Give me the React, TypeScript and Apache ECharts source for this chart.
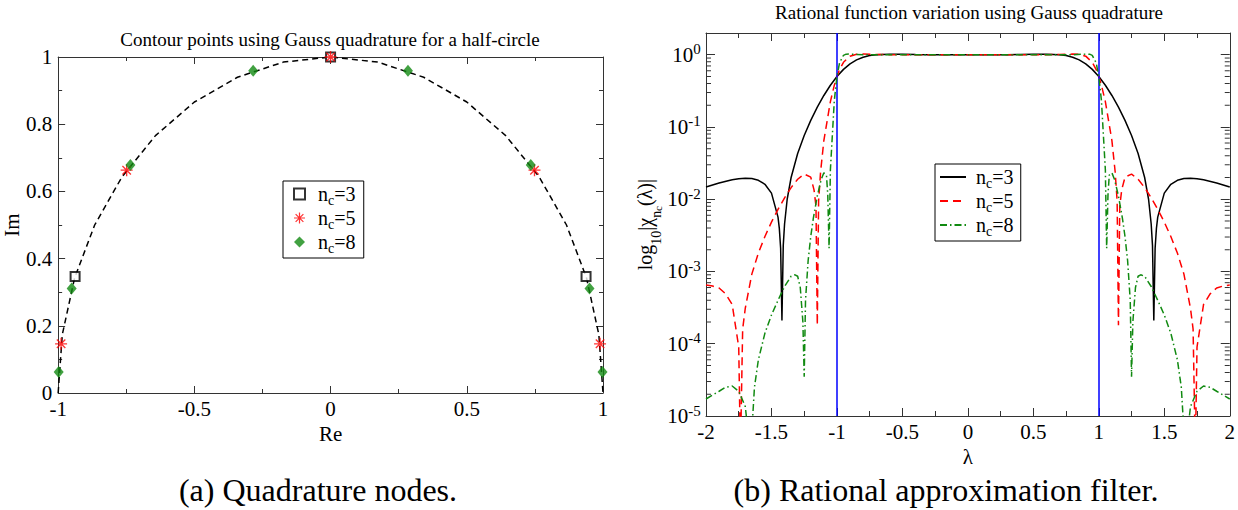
import React, { useEffect, useRef } from 'react';
import * as echarts from 'echarts';

const FONT = 'Liberation Serif, serif';
const AXIS = '#333';
const GREEN = '#118a11';

// ---------- (a) quadrature nodes ----------
const circleRe = [-1, -0.9848, -0.9397, -0.866, -0.766, -0.6428, -0.5, -0.342, -0.1736, 0, 0.1736, 0.342, 0.5, 0.6428, 0.766, 0.866, 0.9397, 0.9848, 1];
const circleIm = [0, 0.1736, 0.342, 0.5, 0.6428, 0.766, 0.866, 0.9397, 0.9848, 1, 0.9848, 0.9397, 0.866, 0.766, 0.6428, 0.5, 0.342, 0.1736, 0];
const nc3Re = [-0.9378, 0, 0.9378];
const nc3Im = [0.347, 1, 0.347];
const nc5Re = [-0.9892, -0.7485, 0, 0.7485, 0.9892];
const nc5Im = [0.1464, 0.6631, 1, 0.6631, 0.1464];
const nc8Re = [-0.9981, -0.9504, -0.7348, -0.2841, 0.2841, 0.7348, 0.9504, 0.9981];
const nc8Im = [0.0623, 0.311, 0.6783, 0.9588, 0.9588, 0.6783, 0.311, 0.0623];

// ---------- (b) rational filter ----------
const lam3 = [-2, -1.9, -1.8, -1.75, -1.7, -1.65, -1.6, -1.55, -1.5, -1.45, -1.44, -1.43, -1.42, -1.41, -1.4, -1.38, -1.35, -1.3, -1.25, -1.2, -1.15, -1.1, -1.05, -1, -0.95, -0.9, -0.85, -0.8, -0.75, -0.7, -0.6, -0.5, -0.4, -0.3, -0.2, 0, 0.2, 0.3, 0.4, 0.5, 0.6, 0.7, 0.75, 0.8, 0.85, 0.9, 0.95, 1, 1.05, 1.1, 1.15, 1.2, 1.25, 1.3, 1.35, 1.38, 1.4, 1.41, 1.42, 1.43, 1.44, 1.45, 1.5, 1.55, 1.6, 1.65, 1.7, 1.75, 1.8, 1.9, 2];
const chi3 = [0.01476, 0.01679, 0.01859, 0.01923, 0.01953, 0.01932, 0.01831, 0.01611, 0.01216, 0.00566, 0.00395, 0.0021, 0.00021, 0.0023, 0.00455, 0.01, 0.02, 0.043, 0.0763, 0.1234, 0.188, 0.273, 0.3785, 0.5, 0.6275, 0.7477, 0.8486, 0.9237, 0.9733, 1.0018, 1.0195, 1.0148, 1.0068, 1.0017, 1.0, 1.0, 1.0, 1.0017, 1.0068, 1.0148, 1.0195, 1.0018, 0.9733, 0.9237, 0.8486, 0.7477, 0.6275, 0.5, 0.3785, 0.273, 0.188, 0.1234, 0.0763, 0.043, 0.02, 0.01, 0.00455, 0.0023, 0.00021, 0.0021, 0.00395, 0.00566, 0.01216, 0.01611, 0.01831, 0.01932, 0.01953, 0.01923, 0.01859, 0.01679, 0.01476];

const lam5 = [-2, -1.95, -1.9, -1.85, -1.8, -1.75, -1.737, -1.72, -1.7, -1.65, -1.6, -1.55, -1.5, -1.45, -1.4, -1.35, -1.3, -1.25, -1.2, -1.175, -1.16, -1.15, -1.14, -1.125, -1.1, -1.05, -1.02, -1, -0.98, -0.95, -0.9, -0.85, -0.8, -0.7, -0.6, -0.5, -0.3, 0, 0.3, 0.5, 0.6, 0.7, 0.8, 0.85, 0.9, 0.95, 0.98, 1, 1.02, 1.05, 1.1, 1.125, 1.14, 1.15, 1.16, 1.175, 1.2, 1.25, 1.3, 1.35, 1.4, 1.45, 1.5, 1.55, 1.6, 1.65, 1.7, 1.72, 1.737, 1.75, 1.8, 1.85, 1.9, 1.95, 2];
const chi5 = [0.00065, 0.00063, 0.00059, 0.00049, 0.00035, 0.00009, 0.000003, 0.00016, 0.00031, 0.00092, 0.0018, 0.00305, 0.00483, 0.00725, 0.01045, 0.0145, 0.0189, 0.0223, 0.0202, 0.0135, 0.008, 0.00018, 0.0095, 0.0238, 0.0649, 0.2247, 0.3795, 0.5, 0.6229, 0.7868, 0.9559, 1.0143, 1.0223, 1.0085, 1.0007, 0.9994, 1.0, 1.0, 1.0, 0.9994, 1.0007, 1.0085, 1.0223, 1.0143, 0.9559, 0.7868, 0.6229, 0.5, 0.3795, 0.2247, 0.0649, 0.0238, 0.0095, 0.00018, 0.008, 0.0135, 0.0202, 0.0223, 0.0189, 0.0145, 0.01045, 0.00725, 0.00483, 0.00305, 0.0018, 0.00092, 0.00031, 0.00016, 0.000003, 0.00009, 0.00035, 0.00049, 0.00059, 0.00063, 0.00065];

const lam8 = [-2, -1.95, -1.9, -1.85, -1.8, -1.75, -1.7, -1.66, -1.63, -1.6, -1.55, -1.5, -1.45, -1.4, -1.35, -1.32, -1.3, -1.28, -1.26, -1.25, -1.24, -1.22, -1.2, -1.18, -1.15, -1.12, -1.1, -1.08, -1.07, -1.06, -1.05, -1.02, -1, -0.98, -0.95, -0.93, -0.9, -0.8, -0.5, 0, 0.5, 0.8, 0.9, 0.93, 0.95, 0.98, 1, 1.02, 1.05, 1.06, 1.07, 1.08, 1.1, 1.12, 1.15, 1.18, 1.2, 1.22, 1.24, 1.25, 1.26, 1.28, 1.3, 1.32, 1.35, 1.4, 1.45, 1.5, 1.55, 1.6, 1.63, 1.66, 1.7, 1.75, 1.8, 1.85, 1.9, 1.95, 2];
const chi8 = [0.0000172, 0.0000195, 0.000022, 0.000025, 0.000026, 0.000022, 0.0000135, 0.000003, 0.000025, 0.00006, 0.00014, 0.00025, 0.0004, 0.00062, 0.00086, 0.0009, 0.00086, 0.0006, 0.0002, 0.000035, 0.0004, 0.00141, 0.00305, 0.0055, 0.0111, 0.0188, 0.0232, 0.0216, 0.0115, 0.0021, 0.0255, 0.2326, 0.5, 0.772, 0.982, 1.0192, 1.0207, 1.0, 1.0, 1.0, 1.0, 1.0, 1.0207, 1.0192, 0.982, 0.772, 0.5, 0.2326, 0.0255, 0.0021, 0.0115, 0.0216, 0.0232, 0.0188, 0.0111, 0.0055, 0.00305, 0.00141, 0.0004, 0.000035, 0.0002, 0.0006, 0.00086, 0.0009, 0.00086, 0.00062, 0.0004, 0.00025, 0.00014, 0.00006, 0.000025, 0.000003, 0.0000135, 0.000022, 0.000026, 0.000025, 0.000022, 0.0000195, 0.0000172];

const filterEdges = [-1, 1];
const minorLogTicks = [
  2e-5, 3e-5, 4e-5, 5e-5, 6e-5, 7e-5, 8e-5, 9e-5,
  2e-4, 3e-4, 4e-4, 5e-4, 6e-4, 7e-4, 8e-4, 9e-4,
  2e-3, 3e-3, 4e-3, 5e-3, 6e-3, 7e-3, 8e-3, 9e-3,
  2e-2, 3e-2, 4e-2, 5e-2, 6e-2, 7e-2, 8e-2, 9e-2,
  2e-1, 3e-1, 4e-1, 5e-1, 6e-1, 7e-1, 8e-1, 9e-1,
];

const STAR = 'path://M1 9H19V11H1Z M9 1H11V19H9Z M4.35 2.93L17.07 15.65L15.65 17.07L2.93 4.35Z M17.07 4.35L4.35 17.07L2.93 15.65L15.65 2.93Z';

const zip = (xs: number[], ys: number[]) => xs.map((x, i) => [x, ys[i]]);

const legendRich = (gap: number) => ({
  g: { width: gap, fontSize: 1 },
  n: { fontFamily: FONT, fontSize: 20, lineHeight: 20, verticalAlign: 'middle', color: '#000' },
  s: { fontFamily: FONT, fontSize: 14, lineHeight: 8, verticalAlign: 'bottom', color: '#000' },
  z: { fontSize: 1, lineHeight: 26 },
});
const legendFmt = (name: string) => `{g| }{n|n}{s|c}{n|=${name.slice(1)}}{z| }`;

const tickLabel = { fontFamily: FONT, fontSize: 21, color: '#000' };
const line = { show: true, onZero: false, lineStyle: { color: AXIS, width: 1 } };

export default function App() {
  const ref = useRef<HTMLDivElement>(null);
  useEffect(() => {
    if (!ref.current) return;
    const chart = echarts.init(ref.current, undefined, { renderer: 'svg' });

    const leftX = {
      type: 'value', gridIndex: 0, min: -1, max: 1, interval: 0.5,
      axisLine: line,
      axisTick: { show: true, inside: true, length: 7, lineStyle: { color: AXIS } },
      minorTick: { show: true, splitNumber: 2, length: 4, lineStyle: { color: AXIS } },
      splitLine: { show: false },
    };
    const leftY = {
      type: 'value', gridIndex: 0, min: 0, max: 1, interval: 0.2,
      axisLine: line,
      axisTick: { show: true, inside: true, length: 7, lineStyle: { color: AXIS } },
      minorTick: { show: true, splitNumber: 2, length: 4, lineStyle: { color: AXIS } },
      splitLine: { show: false },
    };
    const rightX = {
      type: 'value', gridIndex: 1, min: -2, max: 2, interval: 0.5,
      axisLine: line,
      axisTick: { show: true, inside: true, length: 8, lineStyle: { color: AXIS } },
      minorTick: { show: true, splitNumber: 2, length: 5, lineStyle: { color: AXIS } },
      splitLine: { show: false },
    };
    const rightY = {
      type: 'log', logBase: 10, gridIndex: 1, min: 1e-5, max: 2,
      axisLine: line,
      axisTick: { show: true, inside: true, length: 9, lineStyle: { color: AXIS } },
      splitLine: { show: false },
    };
    const nameStyle = { fontFamily: FONT, fontSize: 21, color: '#000' };
    const titleStyle = (size: number) => ({ fontFamily: FONT, fontSize: size, fontWeight: 'normal', color: '#000' });

    const option: any = {
      animation: false,
      backgroundColor: '#fff',
      textStyle: { fontFamily: FONT },
      title: [
        { text: 'Contour points using Gauss quadrature for a half-circle', left: 330, top: 30, textAlign: 'center', padding: 0, textStyle: titleStyle(19) },
        { text: 'Rational function variation using Gauss quadrature', left: 969, top: 3, textAlign: 'center', padding: 0, textStyle: titleStyle(19) },
        { text: '(a) Quadrature nodes.', left: 318, top: 474, textAlign: 'center', padding: 0, textStyle: titleStyle(32) },
        { text: '(b) Rational approximation filter.', left: 946, top: 474, textAlign: 'center', padding: 0, textStyle: titleStyle(32) },
      ],
      grid: [
        { left: 57, top: 57, width: 546, height: 336 },
        { left: 706, top: 33, width: 526, height: 383 },
      ],
      xAxis: [
        { ...leftX, position: 'bottom', name: 'Re', nameLocation: 'middle', nameGap: 20, nameTextStyle: nameStyle, axisLabel: { ...tickLabel, margin: 5 } },
        { ...leftX, position: 'top', axisLabel: { show: false } },
        { ...rightX, position: 'bottom', name: 'λ', nameLocation: 'middle', nameGap: 21, nameTextStyle: nameStyle, axisLabel: { ...tickLabel, margin: 5 } },
        { ...rightX, position: 'top', axisLabel: { show: false } },
      ],
      yAxis: [
        { ...leftY, position: 'left', name: 'Im', nameLocation: 'middle', nameGap: 28, nameTextStyle: nameStyle, axisLabel: { ...tickLabel, margin: 6 } },
        { ...leftY, position: 'right', axisLabel: { show: false } },
        {
          ...rightY,
          position: 'left',
          name: '{t|log}{a|10}{t||χ}{a|n}{c|c}{t|(λ)|}{z| }',
          nameLocation: 'middle', nameGap: 40,
          nameTextStyle: {
            rich: {
              t: { fontFamily: FONT, fontSize: 20, lineHeight: 20, verticalAlign: 'middle', color: '#000' },
              a: { fontFamily: FONT, fontSize: 14, lineHeight: 22, verticalAlign: 'bottom', color: '#000' },
              c: { fontFamily: FONT, fontSize: 11, lineHeight: 8, verticalAlign: 'bottom', color: '#000' },
              z: { fontSize: 1, lineHeight: 36 },
            },
          },
          axisLabel: {
            margin: 5,
            formatter: (v: number) => {
              const l = Math.log10(v);
              const k = Math.round(l);
              if (Math.abs(l - k) > 1e-6) return '';
              return `{b|10}{e|${k}}{z| }`;
            },
            rich: {
              b: { fontFamily: FONT, fontSize: 21, lineHeight: 21, verticalAlign: 'middle', color: '#000' },
              e: { fontFamily: FONT, fontSize: 15, lineHeight: 12, verticalAlign: 'top', color: '#000' },
              z: { fontSize: 1, lineHeight: 26 },
            },
          },
        },
        { ...rightY, position: 'right', axisLabel: { show: false } },
      ],
      legend: [
        {
          data: ['a3', 'a5', 'a8'], orient: 'vertical', left: 283, top: 181,
          padding: [3, 8, 3, 10], itemWidth: 11, itemHeight: 11, itemGap: 1,
          borderColor: '#000', borderWidth: 1, backgroundColor: '#fff', selectedMode: false,
          formatter: legendFmt, textStyle: { rich: legendRich(8) },
        },
        {
          data: ['b3', 'b5', 'b8'], orient: 'vertical', left: 935, top: 164,
          padding: [3, 7, 3, 4], itemWidth: 26, itemHeight: 14, itemGap: 1,
          borderColor: '#000', borderWidth: 1, backgroundColor: '#fff', selectedMode: false,
          itemStyle: { opacity: 0, borderWidth: 0 },
          formatter: legendFmt, textStyle: { rich: legendRich(5) },
        },
      ],
      series: [
        {
          name: 'circle', type: 'line', xAxisIndex: 0, yAxisIndex: 0, data: zip(circleRe, circleIm),
          symbol: 'none', lineStyle: { color: '#000', width: 1.5, type: [6, 4] }, z: 1, silent: true,
        },
        {
          name: 'a3', type: 'scatter', xAxisIndex: 0, yAxisIndex: 0, data: zip(nc3Re, nc3Im),
          symbol: 'emptyRect', symbolSize: 9, itemStyle: { color: '#000', borderWidth: 1.5 }, z: 3,
        },
        {
          name: 'a5', type: 'scatter', xAxisIndex: 0, yAxisIndex: 0, data: zip(nc5Re, nc5Im),
          symbol: STAR, symbolSize: 12, itemStyle: { color: '#ff0000' }, z: 4,
        },
        {
          name: 'a8', type: 'scatter', xAxisIndex: 0, yAxisIndex: 0, data: zip(nc8Re, nc8Im),
          symbol: 'diamond', symbolSize: [10, 12], itemStyle: { color: GREEN }, z: 5,
        },
        {
          name: 'b3', type: 'line', xAxisIndex: 2, yAxisIndex: 2, data: zip(lam3, chi3),
          symbol: 'none', clip: true, lineStyle: { color: '#000', width: 1.5, type: 'solid' }, itemStyle: { color: '#000' }, z: 3,
          markLine: {
            silent: true, symbol: ['none', 'none'], label: { show: false },
            lineStyle: { color: '#0000ff', width: 1.5, type: 'solid' },
            emphasis: { disabled: true },
            data: filterEdges.map((x) => ({ xAxis: x })),
          },
        },
        {
          name: 'b5', type: 'line', xAxisIndex: 2, yAxisIndex: 2, data: zip(lam5, chi5),
          symbol: 'none', clip: true, lineStyle: { color: '#ff0000', width: 1.5, type: [8, 5] }, itemStyle: { color: '#ff0000' }, z: 4,
        },
        {
          name: 'b8', type: 'line', xAxisIndex: 2, yAxisIndex: 2, data: zip(lam8, chi8),
          symbol: 'none', clip: true, lineStyle: { color: GREEN, width: 1.5, type: [7, 3, 1.5, 3] }, itemStyle: { color: GREEN }, z: 5,
        },
        {
          name: 'minorTicks', type: 'custom', xAxisIndex: 2, yAxisIndex: 2, silent: true, z: 10,
          data: minorLogTicks.map((v) => [0, v]),
          encode: { x: 0, y: 1 },
          renderItem: (_p: any, api: any) => {
            const v = api.value(1);
            const l = api.coord([-2, v]);
            const r = api.coord([2, v]);
            return {
              type: 'group',
              children: [
                { type: 'line', shape: { x1: l[0], y1: l[1], x2: l[0] + 5, y2: l[1] }, style: { stroke: AXIS, lineWidth: 1 } },
                { type: 'line', shape: { x1: r[0] - 5, y1: r[1], x2: r[0], y2: r[1] }, style: { stroke: AXIS, lineWidth: 1 } },
              ],
            };
          },
        },
      ],
    };
    chart.setOption(option);
    return () => chart.dispose();
  }, []);
  return <div ref={ref} style={{ position: 'fixed', left: 0, top: 0, width: 1238, height: 510, background: '#fff' }} />;
}
